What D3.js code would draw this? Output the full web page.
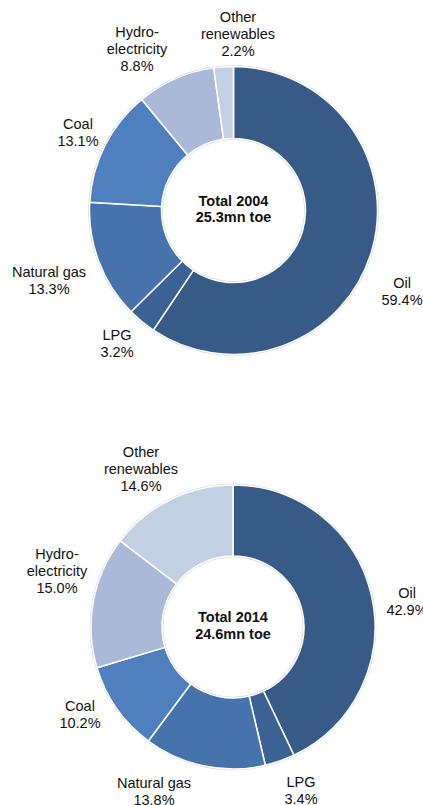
<!DOCTYPE html>
<meta charset="utf-8">
<style>
    body {
        margin: 0;
        background: #fff;
    }
    text {
        font-family: "Liberation Sans", Arial, sans-serif;
        font-size: 14.5px;
        fill: #111;
    }
    text.total {
        font-weight: bold;
    }
    path.slice {
        stroke: #fff;
        stroke-width: 1.5;
    }
    circle.rim {
        fill: none;
        stroke: #d0d0d0;
        stroke-width: 1;
    }
</style>
<body>
<script src="https://cdn.jsdelivr.net/npm/d3@7"></script>
<script>
    var categories = ["Oil", "LPG", "Natural gas", "Coal", "Hydro-electricity", "Other renewables"];
    var colors = ["#375a86", "#3c6295", "#4673ab", "#4f80bd", "#a9b9d7", "#c3cfe2"];

    var values2004 = [59.4, 3.2, 13.3, 13.1, 8.8, 2.2];
    var values2014 = [42.9, 3.4, 13.8, 10.2, 15.0, 14.6];

    var labelLines = [["Oil"], ["LPG"], ["Natural gas"], ["Coal"], ["Hydro-", "electricity"], ["Other", "renewables"]];

    // label anchor points (centre of label block) per chart
    var labelPos2004 = [[402, 283], [117, 335], [49, 272], [78, 124], [137, 32], [238, 17]];
    var labelPos2014 = [[407, 593], [301, 782], [154, 783], [80, 706], [57, 554], [141, 452]];

    var width = 423, height = 805;

    var svg = d3.select("body").append("svg")
            .attr("width", width)
            .attr("height", height);

    var pie = d3.pie().sort(null).value(function (d) { return d; });

    function donut(values, cx, cy, r, totalLines, labelPos) {
        var g = svg.append("g")
                .attr("transform", "translate(" + cx + "," + cy + ")");

        var arc = d3.arc().innerRadius(r * 0.5).outerRadius(r);

        g.append("circle").attr("class", "rim").attr("r", r + 0.8);
        g.append("circle").attr("class", "rim").attr("r", r * 0.5 - 0.8);

        g.selectAll("path.slice")
                .data(pie(values))
                .enter().append("path")
                .attr("class", "slice")
                .attr("fill", function (d, i) { return colors[i]; })
                .attr("d", arc);

        g.selectAll("text.total")
                .data(totalLines)
                .enter().append("text")
                .attr("class", "total")
                .attr("text-anchor", "middle")
                .attr("y", function (d, i) { return -5 + i * 16.5; })
                .text(function (d) { return d; });

        values.forEach(function (v, i) {
            var lines = labelLines[i].concat([v.toFixed(1) + "%"]);
            var t = svg.append("text")
                    .attr("text-anchor", "middle");
            lines.forEach(function (line, j) {
                t.append("tspan")
                        .attr("x", labelPos[i][0])
                        .attr("y", labelPos[i][1] + 5 + j * 16.8)
                        .text(line);
            });
        });
    }

    donut(values2004, 233.5, 210.5, 144, ["Total 2004", "25.3mn toe"], labelPos2004);
    donut(values2014, 233, 627, 142, ["Total 2014", "24.6mn toe"], labelPos2014);
</script>
